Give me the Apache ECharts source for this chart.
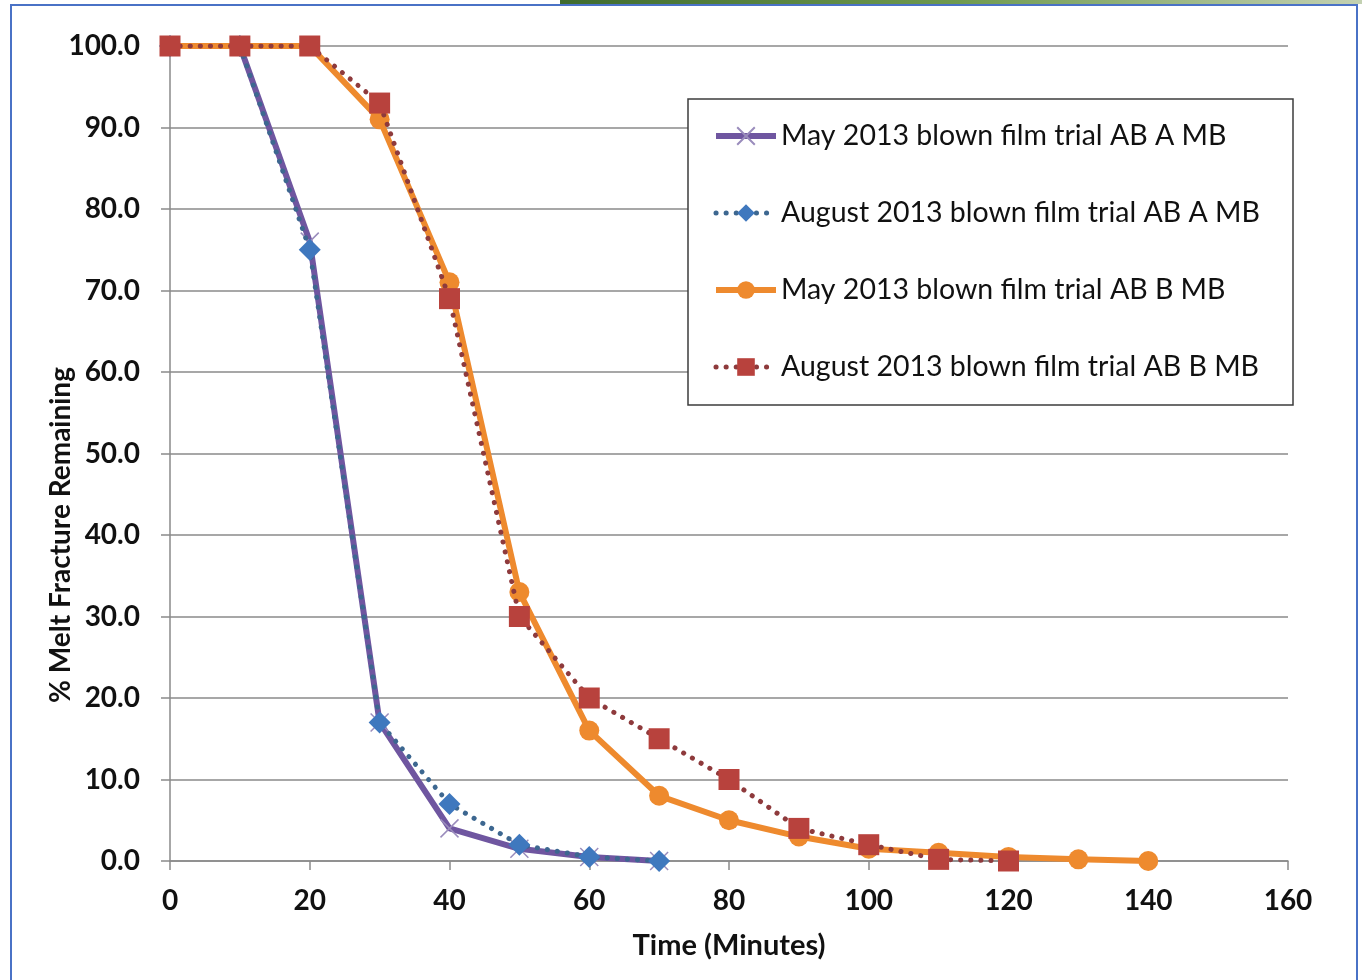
<!DOCTYPE html>
<html>
<head>
<meta charset="utf-8">
<script src="https://cdn.jsdelivr.net/npm/echarts@6/dist/echarts.min.js"></script>
<style>
  html, body { margin: 0; padding: 0; background: #ffffff; }
  #chart { width: 1362px; height: 980px; }
</style>
</head>
<body>
<div id="chart"></div>
<script>
// Time points (minutes) for each trial
const timeMayA = [0, 10, 20, 30, 40, 50, 60, 70];
const timeAugA = [0, 10, 20, 30, 40, 50, 60, 70];
const timeMayB = [0, 10, 20, 30, 40, 50, 60, 70, 80, 90, 100, 110, 120, 130, 140];
const timeAugB = [0, 10, 20, 30, 40, 50, 60, 70, 80, 90, 100, 110, 120];

// % melt fracture remaining at each time point
const mayA = [100, 100, 76, 17, 4, 1.5, 0.5, 0];
const augA = [100, 100, 75, 17, 7, 2, 0.5, 0];
const mayB = [100, 100, 100, 91, 71, 33, 16, 8, 5, 3, 1.5, 1, 0.5, 0.2, 0];
const augB = [100, 100, 100, 93, 69, 30, 20, 15, 10, 4, 2, 0.2, 0];

const seriesNames = [
  'May 2013 blown film trial AB A MB',
  'August 2013 blown film trial AB A MB',
  'May 2013 blown film trial AB B MB',
  'August 2013 blown film trial AB B MB'
];

const xTitle = 'Time (Minutes)';
const yTitle = '% Melt Fracture Remaining';

const xTicks = { min: 0, max: 160, interval: 20 };
const yTicks = { min: 0, max: 100, interval: 10 };

const pair = (xs, ys) => xs.map((x, i) => [x, ys[i]]);

const PURPLE = '#6f56a0';
const BLUE = '#3f78be';
const ORANGE = '#ee8a2e';
const RED = '#b8423d';
const DOT_BLUE = '#3d6790';
const DOT_RED = '#8e3a3c';

const SOLID_W = 6;
const DOT_W = 5;
const DOTS = [0.1, 10];

const chart = echarts.init(document.getElementById('chart'), null, { renderer: 'canvas' });

const axisFont = { fontFamily: 'Lato', fontWeight: 'bold', fontSize: 28, color: '#111' };

chart.setOption({
  animation: false,
  backgroundColor: '#ffffff',
  grid: { left: 170, right: 74, top: 46, bottom: 119, containLabel: false },
  graphic: [
    {
      type: 'rect', z: 0, silent: true,
      shape: { x: 560, y: 0, width: 802, height: 4 },
      style: {
        fill: new echarts.graphic.LinearGradient(0, 0, 1, 0, [
          { offset: 0, color: '#3f6b2e' },
          { offset: 0.5, color: '#6f9a4f' },
          { offset: 1, color: '#c3d1b2' }
        ])
      }
    },
    {
      type: 'rect', z: 0, silent: true,
      shape: { x: 11, y: 5, width: 1346, height: 1000 },
      style: { fill: 'none', stroke: '#4a72c6', lineWidth: 2 }
    },
    {
      type: 'rect', z: 1, silent: true,
      shape: { x: 688, y: 99, width: 605, height: 306 },
      style: { fill: '#ffffff', stroke: '#3c3c3c', lineWidth: 1.5 }
    },
    {
      // vertical axis title, sitting a little below the plot's midline
      type: 'text', z: 2, silent: true,
      x: 61, y: 535, rotation: Math.PI / 2,
      style: Object.assign({ text: yTitle, align: 'center', verticalAlign: 'middle', fill: '#111',
        font: 'bold 28px Lato' })
    }
  ],
  legend: {
    z: 10,
    orient: 'vertical',
    left: 713,
    top: 121,
    itemWidth: 60,
    itemHeight: 22,
    itemGap: 47,
    padding: 0,
    data: [
      { name: seriesNames[0], lineStyle: { width: SOLID_W } },
      { name: seriesNames[1], lineStyle: { width: DOT_W, type: DOTS, cap: 'round' } },
      { name: seriesNames[2], lineStyle: { width: SOLID_W } },
      { name: seriesNames[3], lineStyle: { width: DOT_W, type: DOTS, cap: 'round' } }
    ],
    textStyle: { fontFamily: 'Lato', fontSize: 28.5, color: '#111', lineHeight: 30 }
  },
  xAxis: {
    type: 'value',
    min: xTicks.min, max: xTicks.max, interval: xTicks.interval,
    name: xTitle,
    nameLocation: 'middle',
    nameGap: 70,
    nameTextStyle: Object.assign({}, axisFont, { fontSize: 29 }),
    axisLine: { lineStyle: { color: '#8a8a8a', width: 1.5 } },
    axisTick: { show: true, length: 9, lineStyle: { color: '#8a8a8a', width: 1.5 } },
    axisLabel: Object.assign({ margin: 26 }, axisFont),
    splitLine: { show: false }
  },
  yAxis: {
    type: 'value',
    min: yTicks.min, max: yTicks.max, interval: yTicks.interval,
    axisLine: { show: true, lineStyle: { color: '#8a8a8a', width: 1.5 } },
    axisTick: { show: true, length: 9, lineStyle: { color: '#8a8a8a', width: 1.5 } },
    axisLabel: Object.assign({ margin: 30, formatter: v => v.toFixed(1) }, axisFont),
    splitLine: { show: true, lineStyle: { color: '#8a8a8a', width: 1.5 } }
  },
  series: [
    {
      name: seriesNames[0], type: 'line', z: 3,
      data: pair(timeMayA, mayA),
      symbol: 'path://M0,0L10,10M10,0L0,10',
      symbolSize: 18,
      itemStyle: { color: PURPLE, borderColor: '#9a8cbc', borderWidth: 1.5 },
      lineStyle: { color: PURPLE, width: SOLID_W }
    },
    {
      name: seriesNames[1], type: 'line', z: 4,
      data: pair(timeAugA, augA),
      symbol: 'diamond',
      symbolSize: 22,
      itemStyle: { color: BLUE, borderWidth: 0 },
      lineStyle: { color: DOT_BLUE, width: DOT_W, type: DOTS, cap: 'round' }
    },
    {
      name: seriesNames[2], type: 'line', z: 5,
      data: pair(timeMayB, mayB),
      symbol: 'circle',
      symbolSize: 20,
      itemStyle: { color: ORANGE, borderWidth: 0 },
      lineStyle: { color: ORANGE, width: SOLID_W }
    },
    {
      name: seriesNames[3], type: 'line', z: 6,
      data: pair(timeAugB, augB),
      symbol: 'rect',
      symbolSize: 21,
      itemStyle: { color: RED, borderWidth: 0 },
      lineStyle: { color: DOT_RED, width: DOT_W, type: DOTS, cap: 'round' }
    }
  ]
});
</script>
</body>
</html>
